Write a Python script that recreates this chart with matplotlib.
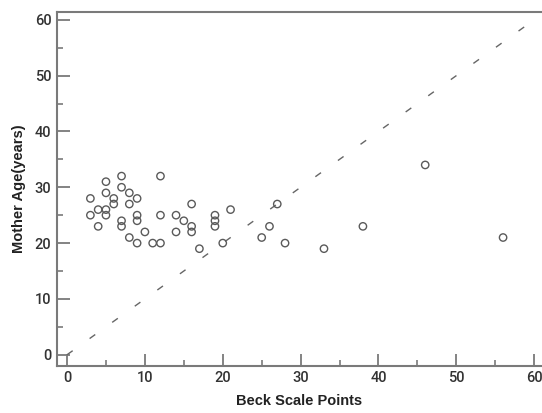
import numpy as np
import matplotlib
matplotlib.use("Agg")
import matplotlib.pyplot as plt
from matplotlib.ticker import MultipleLocator

# Beck scale points vs mother age
beck = [3, 3, 4, 4, 5, 5, 5, 5, 6, 6,
        7, 7, 7, 7, 8, 8, 8, 9, 9, 9,
        9, 10, 11, 12, 12, 12, 14, 14, 15, 16,
        16, 16, 17, 19, 19, 19, 20, 21, 25, 26,
        27, 28, 33, 38, 46, 56]
age = [28, 25, 26, 23, 31, 29, 26, 25, 28, 27,
       32, 30, 24, 23, 29, 27, 21, 28, 25, 24,
       20, 22, 20, 32, 25, 20, 25, 22, 24, 27,
       23, 22, 19, 25, 24, 23, 20, 26, 21, 23,
       27, 20, 19, 23, 34, 21]
ref_line = [0, 60]

spine_col = "#7a7a7a"
tick_font = "Roboto"

fig = plt.figure(figsize=(5.42, 4.13), dpi=100)
ax = fig.add_axes([0.105, 0.114, 0.895, 0.857])

ax.plot(ref_line, ref_line, color="#666666", linestyle=(0, (5, 15)), linewidth=1.0)
ax.scatter(beck, age, s=28, facecolors="none", edgecolors="#5a5a5a", linewidths=1.0, zorder=3)

ax.set_xlim(-1.3, 61.0)
ax.set_ylim(-2.0, 61.4)

ax.xaxis.set_major_locator(MultipleLocator(10))
ax.xaxis.set_minor_locator(MultipleLocator(5))
ax.yaxis.set_major_locator(MultipleLocator(10))
ax.yaxis.set_minor_locator(MultipleLocator(5))

for s in ["left", "bottom", "top"]:
    ax.spines[s].set_color(spine_col)
    ax.spines[s].set_linewidth(1.5)
ax.spines["right"].set_visible(False)

ax.tick_params(which="major", direction="in", length=9, width=1.3, color=spine_col,
               labelsize=10.5, pad=4, top=False, right=False)
ax.tick_params(which="minor", direction="in", length=4, width=1.2, color=spine_col,
               top=False, right=False)
for lab in ax.get_xticklabels() + ax.get_yticklabels():
    lab.set_fontfamily(tick_font)
    lab.set_fontweight("medium")
    lab.set_color("#333333")

ax.set_xlabel("Beck Scale Points", fontsize=10.5, fontweight="bold",
              fontfamily="Liberation Sans", color="#222222", labelpad=6)
ax.set_ylabel("Mother Age(years)", fontsize=10.5, fontweight="bold",
              fontfamily="Liberation Sans", color="#222222", labelpad=6)

fig.savefig("out.png", dpi=100)
